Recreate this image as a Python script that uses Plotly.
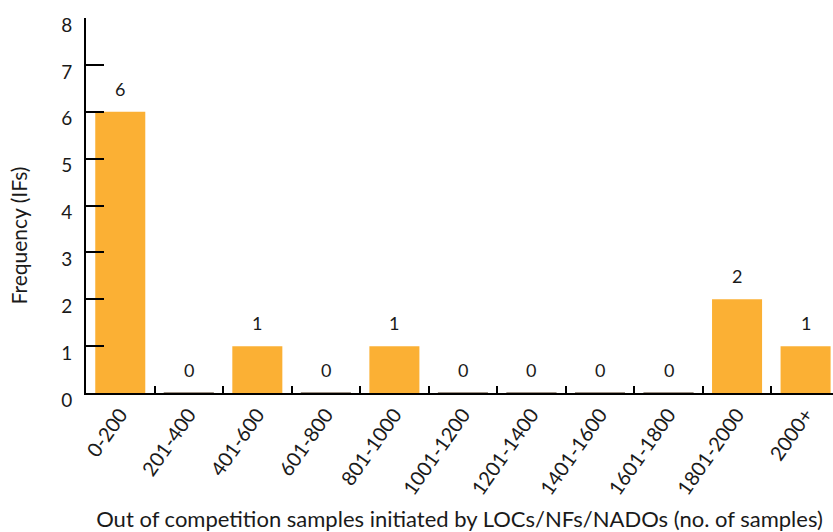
import plotly.graph_objects as go

# Out-of-competition sample bands and the number of IFs in each
categories = ["0-200", "201-400", "401-600", "601-800", "801-1000", "1001-1200",
              "1201-1400", "1401-1600", "1601-1800", "1801-2000", "2000+"]
frequency = [6, 0, 1, 0, 1, 0, 0, 0, 0, 2, 1]
y_ticks = [0, 1, 2, 3, 4, 5, 6, 7, 8]

FONT = "Lato, 'Open Sans', sans-serif"
INK = "#1a1a1a"

fig = go.Figure(
    go.Bar(
        x=categories,
        y=frequency,
        marker=dict(color="#FBB034",
                    line=dict(width=[1 if v == 0 else 0 for v in frequency],
                              color="#7a6a5a")),
        width=0.73,
        cliponaxis=False,
    )
)

# value labels sitting above each bar
for cat, val in zip(categories, frequency):
    fig.add_annotation(
        x=cat, y=val, text=str(val), showarrow=False,
        yanchor="bottom", yshift=10,
        font=dict(family=FONT, size=18, color=INK),
    )

# y-axis title, placed a little below the middle of the axis
fig.add_annotation(
    xref="paper", yref="paper", x=-0.091, y=0.42,
    text="Frequency (IFs)", textangle=-90, showarrow=False,
    xanchor="center", yanchor="middle",
    font=dict(family=FONT, size=21, color=INK),
)

fig.update_layout(
    width=833,
    height=532,
    margin=dict(l=86, r=0, t=18, b=139),
    plot_bgcolor="white",
    paper_bgcolor="white",
    showlegend=False,
    font=dict(family=FONT, size=18, color=INK),
    xaxis=dict(
        type="category",
        range=[-0.5, 10.4],
        showline=True,
        linecolor="black",
        linewidth=2,
        ticks="inside",
        tickson="boundaries",
        ticklen=7,
        tickwidth=2,
        tickcolor="black",
        tickangle=-55,
        tickfont=dict(family=FONT, size=20),
        showgrid=False,
        title=dict(text="Out of competition samples initiated by LOCs/NFs/NADOs (no. of samples)",
                   font=dict(family=FONT, size=22), standoff=14),
    ),
    yaxis=dict(
        range=[0, 8],
        tickvals=y_ticks,
        showline=True,
        linecolor="black",
        linewidth=2,
        ticks="inside",
        ticklen=18,
        tickwidth=2,
        tickcolor="black",
        tickfont=dict(family=FONT, size=19),
        ticklabelstandoff=8,
        ticklabelshift=7,
        showgrid=False,
        zeroline=False,
    ),
)

fig.write_html("out.html")
